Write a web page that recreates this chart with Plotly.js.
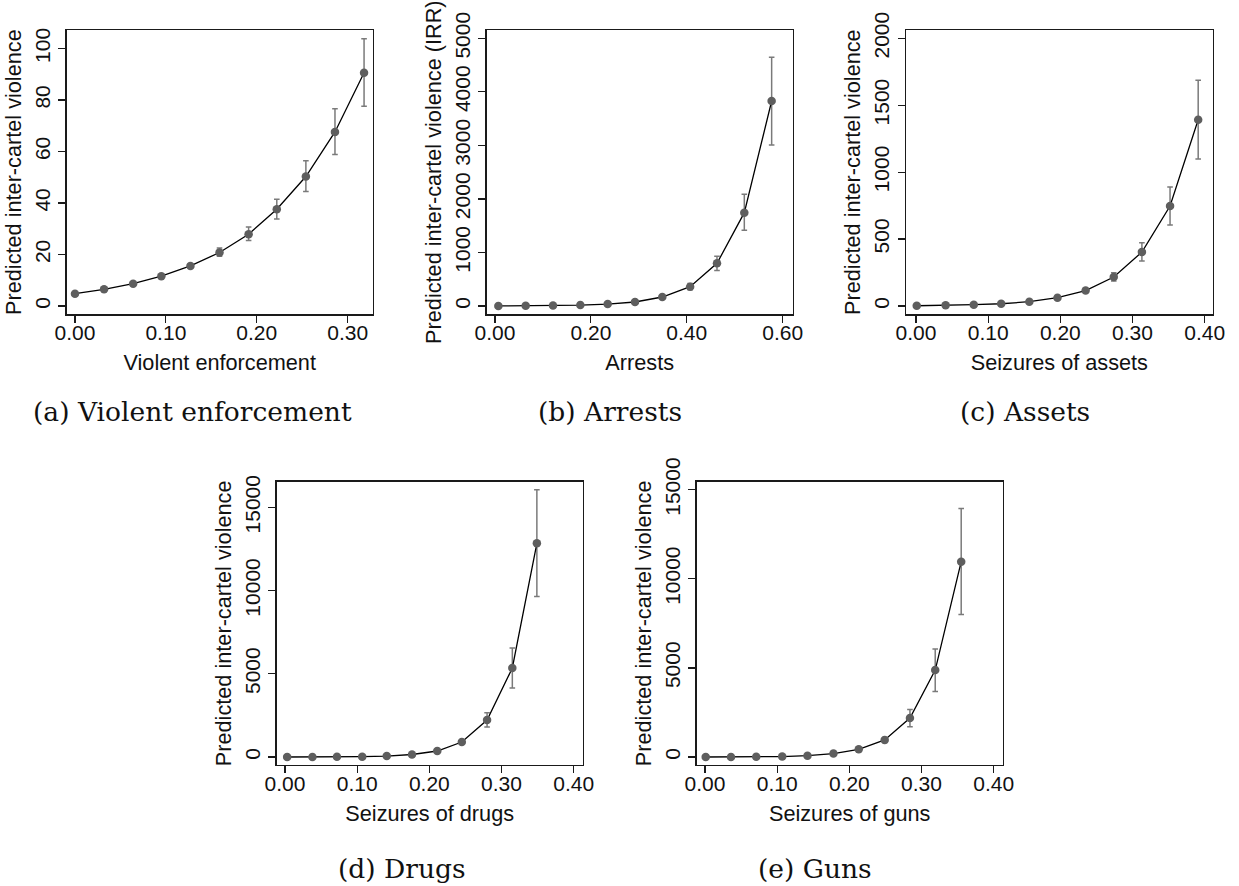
<!DOCTYPE html>
<html>
<head>
<meta charset="utf-8">
<script src="https://cdn.plot.ly/plotly-3.0.1.min.js"></script>
<style>
  html, body { margin: 0; padding: 0; background: #ffffff; }
  #chart { width: 1239px; height: 886px; }
</style>
</head>
<body>
<div id="chart"></div>
<script>
// ---------------- DATA ----------------
// (a) Violent enforcement
const violentX  = [0.000, 0.032, 0.064, 0.095, 0.127, 0.159, 0.191, 0.222, 0.254, 0.286, 0.318];
const violentY  = [4.8, 6.5, 8.7, 11.6, 15.6, 20.8, 27.9, 37.6, 50.3, 67.6, 90.6];
const violentHi = [5.1, 6.9, 9.2, 12.1, 16.4, 22.5, 30.7, 41.5, 56.4, 76.6, 103.8];
const violentLo = [4.5, 6.1, 8.2, 11.1, 14.8, 19.3, 25.5, 33.8, 44.5, 58.9, 77.6];

// (b) Arrests
const arrestsX  = [0.007, 0.064, 0.121, 0.178, 0.235, 0.292, 0.349, 0.407, 0.463, 0.520, 0.577];
const arrestsY  = [2, 5, 9, 18, 36, 75, 168, 361, 797, 1744, 3830];
const arrestsHi = [3, 7, 12, 23, 44, 90, 195, 420, 928, 2086, 4645];
const arrestsLo = [1, 4, 7, 14, 29, 62, 142, 305, 665, 1414, 3008];

// (c) Assets
const assetsX  = [0.001, 0.041, 0.080, 0.118, 0.157, 0.196, 0.235, 0.274, 0.313, 0.352, 0.391];
const assetsY  = [2, 5, 10, 17, 32, 62, 115, 217, 403, 747, 1392];
const assetsHi = [3, 6, 11, 19, 36, 70, 128, 249, 473, 889, 1686];
const assetsLo = [2, 4, 9, 15, 28, 55, 102, 187, 336, 605, 1098];

// (d) Drugs
const drugsX  = [0.003, 0.038, 0.072, 0.107, 0.141, 0.176, 0.211, 0.245, 0.280, 0.315, 0.349];
const drugsY  = [1, 3, 8, 20, 55, 150, 360, 900, 2220, 5350, 12840];
const drugsHi = [1, 4, 10, 25, 65, 175, 420, 1030, 2660, 6550, 16060];
const drugsLo = [1, 2, 6, 16, 45, 128, 310, 785, 1800, 4150, 9650];

// (e) Guns
const gunsX  = [0.001, 0.036, 0.071, 0.107, 0.142, 0.178, 0.213, 0.249, 0.284, 0.319, 0.355];
const gunsY  = [1, 3, 9, 25, 75, 190, 430, 960, 2190, 4880, 10960];
const gunsHi = [1, 4, 11, 30, 88, 220, 490, 1100, 2660, 6060, 13950];
const gunsLo = [1, 2, 7, 20, 62, 160, 370, 820, 1700, 3680, 8000];

// Tick values / labels
const xTicksA = [0, 0.1, 0.2, 0.3];
const xTicksB = [0, 0.2, 0.4, 0.6];
const xTicksCDE = [0, 0.1, 0.2, 0.3, 0.4];
const yTicksA = [0, 20, 40, 60, 80, 100];
const yTicksB = [0, 1000, 2000, 3000, 4000, 5000];
const yTicksC = [0, 500, 1000, 1500, 2000];
const yTicksDE = [0, 5000, 10000, 15000];

// Texts
const xTitles = ["Violent enforcement", "Arrests", "Seizures of assets", "Seizures of drugs", "Seizures of guns"];
const yTitleBase = "Predicted inter-cartel violence";
const yTitleIRR = "Predicted inter-cartel violence (IRR)";
const captions = ["(a) Violent enforcement", "(b) Arrests", "(c) Assets", "(d) Drugs", "(e) Guns"];

// ---------------- LAYOUT HELPERS ----------------
const W = 1239, H = 886;
const SANS = "Liberation Sans, Arial, Helvetica, sans-serif";
const SERIF = "DejaVu Serif, Liberation Serif, serif";

function fmt2(v) { return v.toFixed(2); }
function fmt0(v) { return String(v); }

function panelTrace(xs, ys, hi, lo, n) {
  return {
    type: "scatter",
    mode: "lines+markers",
    x: xs, y: ys,
    xaxis: "x" + (n === 1 ? "" : n),
    yaxis: "y" + (n === 1 ? "" : n),
    line: { color: "#000000", width: 1.3 },
    marker: { color: "#5e5e5e", size: 8.5 },
    error_y: {
      type: "data", symmetric: false,
      array: ys.map((v, i) => hi[i] - v),
      arrayminus: ys.map((v, i) => v - lo[i]),
      color: "#7a7a7a", thickness: 1.5, width: 2.8
    },
    hoverinfo: "x+y",
    showlegend: false
  };
}

function xAxis(px0, px1, range, ticks, title, anchor) {
  return {
    domain: [px0 / W, px1 / W],
    range: range,
    anchor: anchor,
    showline: true, mirror: true, linecolor: "#1a1a1a", linewidth: 1.4,
    ticks: "outside", ticklen: 7, tickwidth: 1.2, tickcolor: "#1a1a1a",
    showgrid: false, zeroline: false,
    tickmode: "array", tickvals: ticks, ticktext: ticks.map(fmt2),
    ticklabelstandoff: -8,
    tickfont: { family: SANS, size: 21, color: "#111111" },
    title: { text: title, font: { family: SANS, size: 21.7, color: "#111111" }, standoff: 12 },
    fixedrange: true
  };
}

function yAxis(py0, py1, range, ticks, title, anchor) {
  return {
    domain: [1 - py1 / H, 1 - py0 / H],
    range: range,
    anchor: anchor,
    showline: true, mirror: true, linecolor: "#1a1a1a", linewidth: 1.4,
    ticks: "outside", ticklen: 7, tickwidth: 1.2, tickcolor: "#1a1a1a",
    showgrid: false, zeroline: false,
    tickmode: "array", tickvals: ticks, ticktext: ticks.map(fmt0),
    tickangle: -90,
    tickfont: { family: SANS, size: 21, color: "#111111" },
    title: { text: title, font: { family: SANS, size: 21.7, color: "#111111" }, standoff: 3 },
    fixedrange: true
  };
}

const data = [
  panelTrace(violentX, violentY, violentHi, violentLo, 1),
  panelTrace(arrestsX, arrestsY, arrestsHi, arrestsLo, 2),
  panelTrace(assetsX, assetsY, assetsHi, assetsLo, 3),
  panelTrace(drugsX, drugsY, drugsHi, drugsLo, 4),
  panelTrace(gunsX, gunsY, gunsHi, gunsLo, 5)
];

const rowTop1 = 30, rowBot1 = 314.3, rowTop2 = 481.7, rowBot2 = 765;

function cap(text, cx, cy) {
  return {
    text: text, xref: "paper", yref: "paper",
    x: cx / W, y: 1 - cy / H, xanchor: "center", yanchor: "middle",
    showarrow: false,
    font: { family: SERIF, size: 26.5, color: "#111111" }
  };
}

const layout = {
  width: W, height: H,
  margin: { l: 0, r: 0, t: 0, b: 0, pad: 0 },
  paper_bgcolor: "#ffffff", plot_bgcolor: "#ffffff",
  showlegend: false,
  xaxis:  xAxis(66.7, 372.7, [-0.0091, 0.3275], xTicksA, xTitles[0], "y"),
  yaxis:  yAxis(rowTop1, rowBot1, [-3.2, 107.2], yTicksA, yTitleBase, "x"),
  xaxis2: xAxis(486.7, 792.7, [-0.0173, 0.6209], xTicksB, xTitles[1], "y2"),
  yaxis2: yAxis(rowTop1, rowBot1, [-155, 5156], yTicksB, yTitleIRR, "x2"),
  xaxis3: xAxis(906, 1212.7, [-0.0139, 0.4111], xTicksCDE, xTitles[2], "y3"),
  yaxis3: yAxis(rowTop1, rowBot1, [-62, 2062], yTicksC, yTitleBase, "x3"),
  xaxis4: xAxis(276.7, 582.7, [-0.0115, 0.4125], xTicksCDE, xTitles[3], "y4"),
  yaxis4: yAxis(rowTop2, rowBot2, [-481, 16545], yTicksDE, yTitleBase, "x4"),
  xaxis5: xAxis(696.7, 1002.7, [-0.0115, 0.4125], xTicksCDE, xTitles[4], "y5"),
  yaxis5: yAxis(rowTop2, rowBot2, [-449, 15449], yTicksDE, yTitleBase, "x5"),
  annotations: [
    cap(captions[0], 192, 411),
    cap(captions[1], 610, 411),
    cap(captions[2], 1025, 411),
    cap(captions[3], 402, 868),
    cap(captions[4], 815, 868)
  ]
};

Plotly.newPlot("chart", data, layout, { staticPlot: true, displayModeBar: false });
</script>
</body>
</html>
